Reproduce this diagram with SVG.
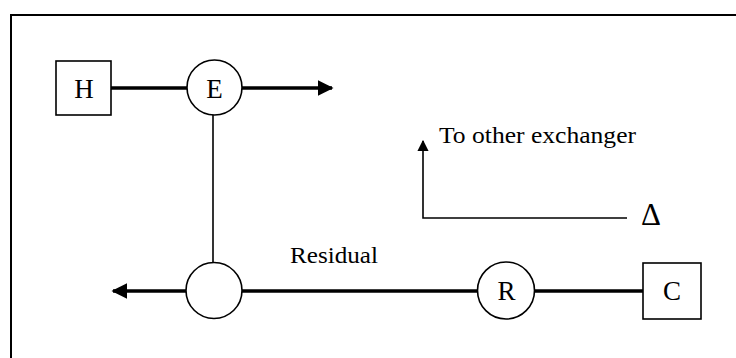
<svg xmlns="http://www.w3.org/2000/svg" width="736" height="358" viewBox="0 0 736 358">
<style>
.node{fill:#fff;stroke:#000;stroke-width:1.6}
.lbl{font-family:"Liberation Serif","Times New Roman",serif;font-size:27px;fill:#000;text-anchor:middle}
.txt{font-family:"Liberation Serif","Times New Roman",serif;font-size:23px;fill:#000}
.thick{stroke:#000;stroke-width:3.5;fill:none}
.thin{stroke:#000;stroke-width:1.6;fill:none}
</style>
<defs>
<marker id="ah" viewBox="0 0 10 10" refX="9" refY="5" markerWidth="4.5" markerHeight="4.5" orient="auto" markerUnits="strokeWidth">
<path d="M0,0 L10,5 L0,10 z" fill="#000"/>
</marker>
<marker id="ahs" viewBox="0 0 10 10" refX="9" refY="5" markerWidth="7" markerHeight="7" orient="auto" markerUnits="strokeWidth">
<path d="M0,0 L10,5 L0,10 z" fill="#000"/>
</marker>
</defs>
<rect width="736" height="358" fill="#fff"/>
<path d="M11,366 L11,15 L745,15" fill="none" stroke="#000" stroke-width="2"/>
<g id="connectors">
<line class="thick" x1="111" y1="88" x2="187" y2="88"/>
<line class="thick" x1="242" y1="88" x2="332" y2="88" marker-end="url(#ah)"/>
<line class="thin" x1="213" y1="115" x2="213" y2="262"/>
<line class="thick" x1="186" y1="291" x2="113" y2="291" marker-end="url(#ah)"/>
<line class="thick" x1="242" y1="291" x2="478" y2="291"/>
<line class="thick" x1="535" y1="291" x2="643" y2="291"/>
<path class="thin" d="M627,218 L423,218 L423,141" marker-end="url(#ahs)"/>
</g>
<g id="H">
<rect class="node" x="56" y="61" width="55" height="54"/>
<text class="lbl" x="84" y="98">H</text>
</g>
<g id="E">
<circle class="node" cx="214.5" cy="87.5" r="27.5"/>
<text class="lbl" x="214.5" y="98">E</text>
</g>
<g id="S">
<circle class="node" cx="214" cy="290.5" r="28"/>
</g>
<g id="R">
<circle class="node" cx="506" cy="290.5" r="28.5"/>
<text class="lbl" x="506.5" y="300">R</text>
</g>
<g id="C">
<rect class="node" x="643" y="263" width="58" height="56"/>
<text class="lbl" x="672" y="300">C</text>
</g>
<text class="txt" x="439" y="143" textLength="197" lengthAdjust="spacingAndGlyphs">To other exchanger</text>
<text class="txt" x="290" y="263" textLength="88" lengthAdjust="spacingAndGlyphs">Residual</text>
<text class="txt" x="651" y="225" text-anchor="middle" style="font-size:31px">Δ</text>
</svg>
